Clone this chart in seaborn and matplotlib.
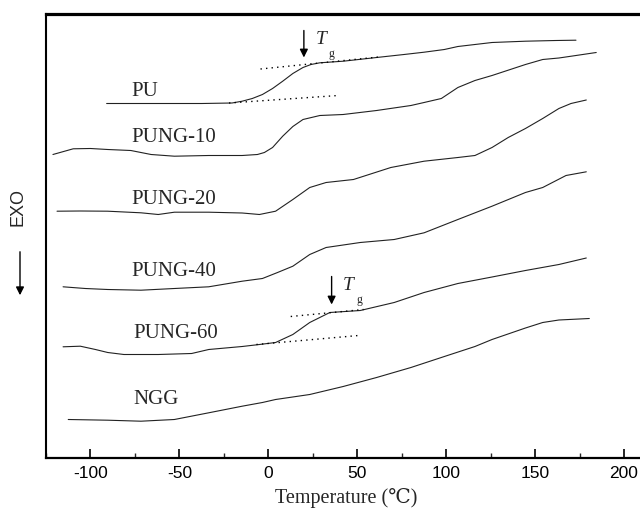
"""DSC curves of PU / PUNG series and NGG (stacked, arbitrary units)."""
import matplotlib

matplotlib.use("Agg")
import matplotlib.pyplot as plt
import numpy as np
import pandas as pd
import seaborn as sns
from matplotlib.ticker import MultipleLocator

# ---- data (temperature in C, heat flow in a.u., offset stacked) ----
pu_t = [-90.9, -60.2, -37.4, -20.4, -14.7, -9.0, -3.3, 2.4, 8.1, 13.8, 19.5, 24.0, 29.0,
        42.1, 60.9, 76.3, 87.6, 99.0, 106.6, 125.8, 144.6, 161.7, 173.0]
pu_y = [354, 354, 354, 354.5, 356.3, 359, 363, 369, 376.3, 384, 390, 393, 394.7,
        396.3, 400, 403, 405.3, 408, 411, 415, 416.3, 417, 417.3]

pung10_t = [-121.1, -109.7, -100.0, -90.3, -77.3, -65.9, -52.8, -33.5, -14.7, -6.1, -2.2,
            2.4, 8.1, 13.8, 19.5, 29.0, 42.1, 60.9, 80.2, 87.6, 97.3, 106.6, 116.2, 125.8,
            144.6, 154.3, 163.4, 173.0, 184.4]
pung10_y = [303, 308.7, 309, 308, 307, 303, 301.3, 302, 302, 303, 305,
            310, 321.3, 331, 338, 342, 343, 347, 352, 355, 359, 370, 377, 382,
            393, 398, 399.5, 402, 405]

pung20_t = [-118.8, -105.7, -90.3, -71.6, -61.9, -52.8, -33.5, -14.7, -5.0, 4.1, 13.8,
            23.3, 32.5, 47.9, 68.9, 87.6, 106.6, 116.2, 125.8, 134.9, 144.6, 154.3,
            163.4, 170.2, 178.8]
pung20_y = [246.3, 246.5, 246.3, 244.7, 243, 245.3, 245.3, 244.5, 243, 246.3, 258,
            270, 275, 278, 290, 296.3, 300, 302, 310, 320, 329, 339,
            349, 354, 357.5]

pung40_t = [-115.4, -102.9, -90.3, -71.6, -52.8, -33.5, -14.7, -3.3, 5.2, 13.8, 23.3,
            32.5, 51.7, 70.8, 87.6, 106.6, 125.8, 144.6, 154.3, 167.4, 178.8]
pung40_y = [170.7, 169, 168, 167.3, 169, 170.7, 176.3, 179, 185, 191.3, 203,
            210, 215, 218, 224.7, 238, 251.3, 265, 270, 282, 285.7]

pung60_t = [-115.4, -105.7, -97.2, -90.3, -81.2, -61.9, -43.1, -33.5, -14.7, -5.0, 4.1,
            13.8, 23.3, 34.6, 51.7, 70.8, 87.6, 106.6, 125.8, 144.6, 163.4, 178.8]
pung60_y = [110.7, 111.3, 108, 105, 103, 103, 104, 108, 111, 113, 115,
            123, 135, 145, 147, 155, 165, 174, 180.5, 187, 193, 199.5]

ngg_t = [-112.5, -90.3, -71.6, -52.8, -33.5, -14.7, -3.3, 4.1, 23.3, 42.1, 60.9, 80.2,
         99.0, 116.2, 125.8, 144.6, 154.3, 163.4, 180.5]
ngg_y = [38, 37.3, 36.3, 38, 44.7, 51.3, 55, 58, 63, 71, 80, 90,
         101, 111, 118, 129.5, 135, 137.5, 139]

labels = ["PU", "PUNG-10", "PUNG-20", "PUNG-40", "PUNG-60", "NGG"]
label_t = [-77.2, -77.2, -77.2, -77.2, -76.0, -76.0]
label_y = [361, 315, 253, 181, 120, 53]

# Tg construction: tangent lines and arrow position
pu_tan_hi_t, pu_tan_hi_y = [-4.4, 62.0], [388.5, 400.5]
pu_tan_lo_t, pu_tan_lo_y = [-22.1, 39.3], [354.5, 362.0]
p60_tan_hi_t, p60_tan_hi_y = [12.6, 53.6], [141.0, 148.0]
p60_tan_lo_t, p60_tan_lo_y = [-6.7, 50.7], [113.0, 122.0]
tg_t = [20.0, 35.6]
tg_arrow_top = [427, 181]
tg_arrow_tip = [400, 153]

curves = {
    "PU": (pu_t, pu_y),
    "PUNG-10": (pung10_t, pung10_y),
    "PUNG-20": (pung20_t, pung20_y),
    "PUNG-40": (pung40_t, pung40_y),
    "PUNG-60": (pung60_t, pung60_y),
    "NGG": (ngg_t, ngg_y),
}

sns.set_theme(style="white")
plt.rcParams["font.family"] = ["Liberation Sans", "DejaVu Sans"]
plt.rcParams["axes.unicode_minus"] = False
serif = ["Liberation Serif", "DejaVu Serif"]

fig = plt.figure(figsize=(6.4, 5.15), dpi=100)
ax = fig.add_axes([46 / 640, 1 - 457.5 / 515, 1 - 46 / 640 + 0.01, (457.5 - 14) / 515])

frames = []
for name, (t, y) in curves.items():
    frames.append(pd.DataFrame({"T": t, "hf": y, "sample": name}))
df = pd.concat(frames, ignore_index=True)
for name in labels:
    sub = df[df["sample"] == name]
    sns.lineplot(data=sub, x="T", y="hf", ax=ax, color="#222222", lw=0.8,
                 estimator=None, sort=False)

for tt, yy in [(pu_tan_hi_t, pu_tan_hi_y), (pu_tan_lo_t, pu_tan_lo_y),
               (p60_tan_hi_t, p60_tan_hi_y), (p60_tan_lo_t, p60_tan_lo_y)]:
    ax.plot(tt, yy, ls=(0, (1, 3)), color="black", lw=1.0)

for xt, y0, y1 in zip(tg_t, tg_arrow_top, tg_arrow_tip):
    ax.annotate("", xy=(xt, y1), xytext=(xt, y0),
                arrowprops=dict(arrowstyle="-|>", color="black", lw=1.0,
                                mutation_scale=12, shrinkA=0, shrinkB=0))
    ax.text(xt + 6.5, y0 - 1, "T", family=serif, style="italic", fontsize=14,
            va="top", ha="left")
    ax.text(xt + 14.0, y0 - 17, "g", family=serif, fontsize=8.5, va="top", ha="left")

for lab, lt, ly in zip(labels, label_t, label_y):
    ax.text(lt, ly, lab, family=serif, fontsize=15, va="baseline", ha="left")

ax.set_xlim(-125, 212.6)
ax.set_ylim(0, 443.5)
ax.set_yticks([])
ax.xaxis.set_major_locator(MultipleLocator(50))
ax.xaxis.set_minor_locator(MultipleLocator(25))
ax.tick_params(axis="x", which="major", direction="in", length=6.5, width=1.2,
               labelsize=12.5, pad=6, bottom=True, colors="black")
ax.tick_params(axis="x", which="minor", direction="in", length=3.5, width=1.0, bottom=True)
ax.set_xlabel("Temperature (℃)", family=serif, fontsize=14.5, labelpad=5)
ax.set_ylabel("")

for side in ["left", "bottom", "top"]:
    ax.spines[side].set_color("black")
ax.spines["left"].set_linewidth(1.5)
ax.spines["bottom"].set_linewidth(1.6)
ax.spines["top"].set_linewidth(2.3)
ax.spines["right"].set_visible(False)

fig.text(18 / 640, 1 - 207 / 515, "EXO", rotation=90, fontsize=13, ha="center", va="center")
fig.patches.append(matplotlib.patches.FancyArrowPatch(
    (20 / 640, 1 - 249 / 515), (20 / 640, 1 - 298 / 515), transform=fig.transFigure,
    arrowstyle="-|>", mutation_scale=12, color="black", lw=1.0))

fig.savefig("out.png", dpi=100)
